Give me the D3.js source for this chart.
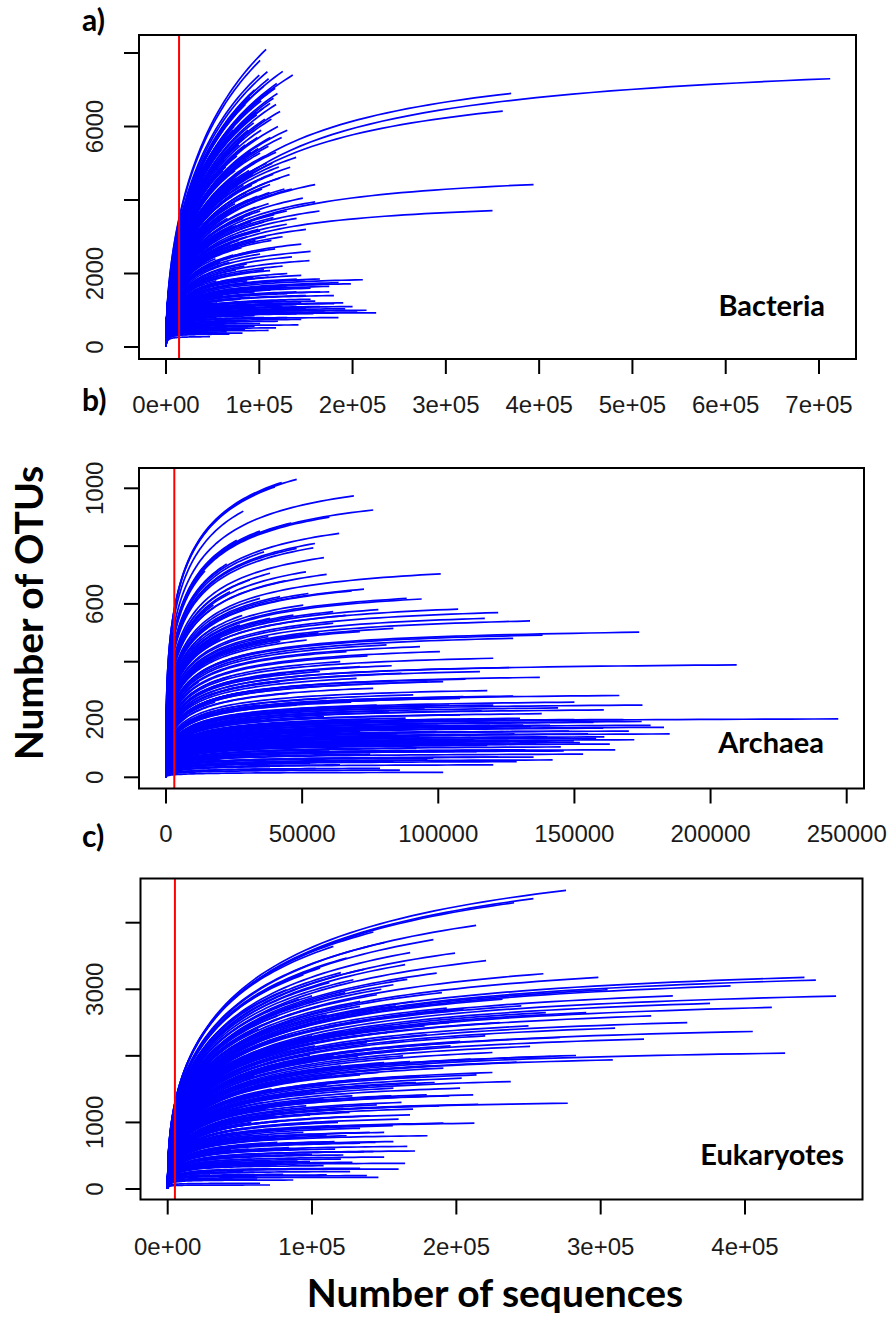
<!DOCTYPE html>
<html>
<head>
<meta charset="utf-8">
<script src="https://cdn.jsdelivr.net/npm/d3@7"></script>
<style>
  body { margin: 0; background: #fff; }
  svg { display: block; }
</style>
</head>
<body>
<script>
// Rarefaction curves: each entry is [sequences at end of curve, OTUs at end of curve]
const bacteria = [
  [712000, 7300], [370000, 6900], [361000, 6420], [394000, 4420], [350000, 3710],
  [107300, 8100], [100900, 7800], [108700, 7490], [125200, 7500], [135900, 7400],
  [118800, 7170], [117000, 7040], [119500, 6900], [115200, 6770], [111600, 6630],
  [122300, 6410], [104400, 6500], [97300, 6320], [83000, 6140], [84100, 5690],
  [109800, 5460], [100900, 5280], [139500, 5160], [133100, 4890], [132400, 4690],
  [122300, 4600], [111600, 4420], [159900, 4420], [146700, 4050], [159900, 3950],
  [164500, 3700], [129500, 3700], [115200, 3520], [129500, 3340], [100900, 3160],
  [117000, 2670], [100900, 2530], [153800, 2350], [111600, 2080], [86600, 2260],
  [75800, 2710], [93700, 1900], [140200, 1850], [149200, 1830], [211000, 1830],
  [198200, 1720], [129500, 1630], [118800, 1450], [128800, 1250], [180300, 1180],
  [192100, 1040], [225300, 930], [184900, 800], [158100, 910], [142000, 600],
  [84800, 480], [100900, 640], [65100, 410], [47200, 280],
  [30000, 2600], [32000, 3400], [35000, 4200], [36000, 1500], [38000, 2900],
  [40000, 3800], [40000, 900], [42000, 4600], [44000, 2200], [45000, 5000],
  [46000, 3300], [48000, 1200], [50000, 4100], [50000, 2700], [52000, 5300],
  [53000, 3600], [54000, 1800], [55000, 4700], [56000, 3000], [57000, 600],
  [58000, 5600], [58000, 2300], [60000, 4300], [60000, 3900], [61000, 1400],
  [62000, 5100], [63000, 3200], [64000, 4900], [65000, 2000], [66000, 5800],
  [66000, 3500], [67000, 1000], [68000, 4500], [69000, 2800], [70000, 5400],
  [70000, 3700], [71000, 4100], [72000, 2500], [73000, 6000], [73000, 1700],
  [74000, 4800], [75000, 3300], [76000, 5200], [77000, 4400], [78000, 2900],
  [79000, 6200], [80000, 3900], [80000, 1300], [81000, 5000], [82000, 4600],
  [83000, 3500], [84000, 2200], [85000, 5500], [86000, 4200], [87000, 3000],
  [88000, 5900], [89000, 4800], [90000, 3600], [90000, 1900], [91000, 5300],
  [92000, 4400], [93000, 2600], [94000, 6100], [95000, 5000], [96000, 3800],
  [97000, 4500], [98000, 5700], [99000, 3200], [100000, 4900], [102000, 5900],
  [103000, 4300], [105000, 3400], [106000, 6200], [108000, 5000], [110000, 3900],
  [112000, 5700], [113000, 2900], [115000, 4700], [118000, 5300], [120000, 6000],
  [25000, 1800], [28000, 700], [34000, 2000], [43000, 1600], [47000, 500],
  [52000, 800], [62000, 1100], [74000, 900], [86000, 1150], [95000, 1500],
  [104000, 1250], [115000, 1000], [125000, 1100], [135000, 1000], [145000, 1200],
  [150000, 1400], [165000, 1100], [170000, 950], [175000, 1500], [160000, 1700],
  [140000, 1500], [120000, 1800], [105000, 2100], [130000, 2000], [145000, 2800],
  [125000, 3000], [135000, 4300], [140000, 3500], [150000, 3200], [155000, 2600],
  [100000, 7400], [110000, 7300], [112000, 7000], [105000, 7100], [95000, 7000],
  [90000, 6800], [85000, 6600],
  [170000, 1000], [160000, 1250], [150000, 1050], [140000, 900], [175000, 1650],
  [185000, 1750], [165000, 1850], [155000, 1600], [190000, 1200], [200000, 1100],
  [205000, 950], [215000, 1000], [145000, 750], [130000, 800], [120000, 700],
  [110000, 950], [95000, 850], [90000, 1350], [75000, 1200], [70000, 1550],
  [110000, 1900], [125000, 2200], [135000, 2450], [145000, 1950],
  [22000, 1200], [24000, 2900], [26000, 3600], [27000, 2100], [29000, 1000],
  [31000, 4300], [33000, 1700], [35000, 3000], [37000, 2400], [39000, 4800],
  [41000, 3200], [43000, 2700], [44000, 4100], [46000, 1900], [47000, 3900],
  [49000, 5200], [51000, 3400], [53000, 2400], [54000, 4500], [56000, 5500],
  [57000, 1500], [59000, 3600], [61000, 4800], [62000, 2700], [64000, 3800],
  [65000, 5600], [67000, 4200], [68000, 2300], [70000, 4900], [71000, 3300],
  [72000, 5900], [74000, 3900], [75000, 2100], [76000, 4600], [78000, 5500],
  [79000, 3500], [81000, 2700], [82000, 6300], [83000, 4400], [85000, 3100],
  [86000, 5100], [87000, 1800], [88000, 4000], [89000, 6500], [91000, 3400],
  [92000, 5600], [93000, 4700], [96000, 2900], [97000, 6400], [98000, 4100],
  [99000, 5400], [101000, 3700], [102000, 6700], [104000, 4600], [106000, 5200],
  [107000, 3000], [109000, 6900], [111000, 4200], [113000, 6200], [114000, 5000],
  [116000, 3600], [118000, 6600], [121000, 4900], [124000, 5700], [127000, 4300],
  [130000, 5900], [60000, 700], [75000, 650], [90000, 700], [105000, 800],
  [120000, 1250], [130000, 1450], [140000, 1150], [155000, 1300], [165000, 1500],
  [180000, 1400], [50000, 1000], [66000, 1300], [80000, 1600], [96000, 1100],
  [112000, 1550], [68000, 350], [88000, 550], [110000, 450], [38000, 350],
  [55000, 1200],
  [45000, 420], [58000, 520], [72000, 460], [82000, 380], [95000, 560],
  [118000, 520], [62000, 850], [78000, 780], [92000, 1000], [34000, 600],
  [42000, 750], [52000, 630], [26000, 450], [36000, 1100]
];

const archaea = [
  [48000, 1031], [42500, 1020], [40000, 1005], [69000, 974], [76100, 925],
  [28400, 921], [63600, 844], [34500, 852], [54700, 809], [54100, 794],
  [48000, 792], [22300, 738], [14300, 714], [38200, 706], [51400, 711],
  [59000, 702], [100900, 704], [72700, 651], [68200, 645], [93900, 617],
  [61400, 573], [107300, 582], [122000, 570], [117100, 550], [133700, 541],
  [138300, 492], [173800, 502], [137300, 346], [209600, 389], [127500, 281],
  [166500, 283], [160800, 233], [246900, 202], [174700, 193], [182900, 173],
  [149800, 126], [163000, 115], [146100, 91], [153200, 80], [160600, 170],
  [131200, 181], [123900, 158], [88400, 619], [37600, 487], [82900, 386],
  [86500, 360], [70000, 342], [76100, 308], [109200, 279], [108000, 216],
  [107300, 175], [94500, 187], [105500, 118], [85900, 25], [101800, 17],
  [78600, 31], [63900, 43],
  [30800, 683], [23500, 642], [17400, 596], [34500, 619], [41900, 625],
  [52300, 636], [50400, 596], [38200, 550], [46800, 561], [27200, 527],
  [61400, 533], [71200, 504], [83500, 515], [93300, 452], [100600, 435],
  [81000, 458], [66300, 435], [51700, 475], [34500, 435], [22300, 435],
  [13700, 389], [71200, 383], [56500, 366], [41900, 331], [28400, 342],
  [101800, 331], [115300, 366], [120200, 412], [127500, 481], [108000, 273],
  [90800, 285], [77400, 250], [59000, 273], [46800, 227], [34500, 250],
  [22300, 227], [120200, 250], [130000, 204], [117700, 169], [99400, 158],
  [83500, 135], [71200, 158], [59000, 135], [46800, 123], [34500, 100],
  [22300, 77], [126300, 123], [114100, 89], [98200, 66], [83500, 54],
  [66300, 66], [52900, 48], [38200, 37], [128800, 54], [120200, 43],
  [140000, 140], [150000, 200], [155000, 150], [145000, 105], [135000, 70],
  [142000, 60], [158000, 135], [170000, 160], [165000, 95], [138000, 220],
  [150000, 260], [175000, 250],
  [95000, 240], [88000, 205], [112000, 145], [92000, 100], [75000, 80],
  [62000, 190], [55000, 160], [40000, 170], [30000, 140], [26000, 290],
  [18000, 260], [12000, 200], [9000, 300], [16000, 160], [45000, 290],
  [65000, 225], [80000, 170], [102000, 200], [118000, 110], [132000, 95],
  [20000, 60], [25000, 120], [35000, 200], [42000, 80], [48000, 250],
  [50000, 110], [55000, 30], [58000, 210], [60000, 95], [65000, 150],
  [68000, 260], [72000, 120], [75000, 200], [78000, 90], [82000, 230],
  [85000, 150], [88000, 110], [90000, 270], [93000, 140], [96000, 60],
  [100000, 180], [104000, 250], [106000, 90], [110000, 200], [113000, 130],
  [116000, 230], [119000, 180], [122000, 70], [125000, 200], [128000, 150],
  [134000, 175], [136000, 115], [141000, 180], [144000, 240], [148000, 160],
  [152000, 120], [157000, 190], [161000, 140], [168000, 200], [172000, 130],
  [178000, 180], [185000, 150], [15000, 100], [10000, 150], [24000, 350],
  [32000, 300], [44000, 360], [54000, 320], [64000, 400], [74000, 420],
  [96000, 330], [110000, 340], [118000, 300], [126000, 380], [20000, 480],
  [28000, 560], [42000, 470], [56000, 500], [66000, 560], [78000, 580],
  [44000, 680], [58000, 760], [36000, 780], [26000, 820], [46000, 880],
  [60000, 900], [18000, 520], [8000, 250], [6000, 120], [12000, 330]
];

const eukaryotes = [
  [276000, 4486], [253400, 4361], [240000, 4300], [142500, 3860], [213700, 3960],
  [199100, 3544], [220600, 3429], [184100, 3745], [164500, 3369], [186400, 3243],
  [128700, 3143], [133300, 2817], [260300, 3233], [298400, 3178], [304800, 2993],
  [441200, 3178], [449100, 3138], [463100, 2898], [375800, 2788], [418600, 2727],
  [310000, 2416], [271900, 2276], [405400, 2366], [427800, 2040], [251100, 2141],
  [282900, 2005], [265600, 1990], [308400, 1940], [241800, 1905], [237700, 1614],
  [277200, 1288], [171400, 571], [164500, 386], [146000, 175], [142500, 561],
  [133300, 687], [115600, 712], [126400, 261], [70900, 60], [212500, 988],
  [215100, 1273], [211700, 1414], [203700, 1664],
  [114800, 3645], [124000, 3469], [105600, 3319], [94000, 3218], [82400, 2993],
  [156400, 3068], [144900, 2918], [133300, 2742], [170300, 2817], [193400, 2717],
  [110200, 2617], [87000, 2516], [70900, 2366], [59400, 2216], [121700, 2366],
  [156400, 2441], [179500, 2316], [202600, 2216], [144900, 2116], [98600, 2015],
  [75500, 1915], [52400, 1815], [167900, 1915], [191000, 1815], [214000, 1714],
  [133300, 1714], [110200, 1564], [87000, 1514], [64000, 1414], [40900, 1313],
  [156400, 1514], [179500, 1414], [202600, 1514], [144900, 1263], [121700, 1213],
  [98600, 1113], [75500, 1013], [52400, 912], [167900, 1113], [191000, 988],
  [133300, 912], [110200, 812], [87000, 762], [64000, 662], [40900, 561],
  [156400, 712], [121700, 511], [98600, 411], [75500, 361], [52400, 261],
  [29300, 211], [133300, 311], [110200, 211], [87000, 135], [64000, 85],
  [35000, 900], [45000, 1100], [55000, 1600], [62000, 1900], [68000, 1200],
  [78000, 1700], [85000, 2100], [92000, 1300], [100000, 2300], [105000, 1800],
  [115000, 2000], [118000, 1000], [125000, 2600], [128000, 1400], [138000, 2200],
  [140000, 1100], [150000, 1900], [160000, 2600], [162000, 1300], [175000, 2100],
  [185000, 1600], [195000, 2500], [25000, 500], [48000, 700], [58000, 450],
  [72000, 900], [95000, 600], [104000, 1000], [118000, 1600], [150000, 850],
  [175000, 1700], [188000, 1250], [230000, 2500], [225000, 2050], [245000, 2750],
  [168000, 3550], [150000, 3700], [120000, 3250], [100000, 2900], [90000, 2750],
  [20000, 300], [30000, 700], [38000, 1100], [42000, 400], [46000, 1500],
  [50000, 1200], [54000, 2000], [57000, 800], [60000, 1700], [63000, 2400],
  [66000, 1000], [69000, 2100], [72000, 1500], [76000, 2600], [79000, 1250],
  [82000, 2300], [84000, 900], [88000, 1900], [91000, 2850], [94000, 1450],
  [97000, 2450], [99000, 1050], [102000, 2150], [106000, 2750], [108000, 1350],
  [112000, 3100], [114000, 1700], [117000, 2450], [120000, 1850], [123000, 2950],
  [126000, 1150], [130000, 2300], [132000, 2000], [136000, 3300], [139000, 1550],
  [142000, 2650], [146000, 1750], [148000, 3000], [152000, 2350], [155000, 1400],
  [158000, 2750], [163000, 2000], [166000, 3150], [172000, 1600], [178000, 2450],
  [182000, 1850], [190000, 2950], [196000, 2150], [205000, 2700], [210000, 1950],
  [220000, 2300], [232000, 2850], [160000, 1050], [180000, 800], [120000, 450],
  [100000, 300], [80000, 500], [60000, 250], [45000, 150], [140000, 850],
  [170000, 1200], [195000, 1400], [225000, 1750], [250000, 2450], [262000, 2650],
  [290000, 2650], [335000, 2600], [350000, 2900], [390000, 3050], [330000, 2250],
  [360000, 2500],
  [40000, 250], [50000, 380], [56000, 600], [62000, 150], [68000, 500],
  [72000, 300], [76000, 700], [80000, 220], [84000, 620], [90000, 420],
  [94000, 850], [100000, 520], [105000, 700], [108000, 350], [112000, 950],
  [116000, 600], [124000, 800], [128000, 400], [136000, 560], [138000, 200],
  [144000, 700], [150000, 480], [156000, 950], [160000, 300], [166000, 640],
  [70000, 800], [58000, 1000], [48000, 850], [36000, 400], [30000, 1000],
  [44000, 600], [88000, 1150], [96000, 1250], [74000, 1100], [66000, 1300],
  [54000, 1400], [84000, 1400], [102000, 1450]
];

// Axis ticks and labels (empty label = tick without text, as R drops crowded labels)
const bacXTicks = [0, 1e5, 2e5, 3e5, 4e5, 5e5, 6e5, 7e5];
const bacXLabels = ["0e+00", "1e+05", "2e+05", "3e+05", "4e+05", "5e+05", "6e+05", "7e+05"];
const bacYTicks = [0, 2000, 4000, 6000, 8000];
const bacYLabels = ["0", "2000", "", "6000", ""];

const arcXTicks = [0, 50000, 100000, 150000, 200000, 250000];
const arcXLabels = ["0", "50000", "100000", "150000", "200000", "250000"];
const arcYTicks = [0, 200, 400, 600, 800, 1000];
const arcYLabels = ["0", "200", "", "600", "", "1000"];

const eukXTicks = [0, 1e5, 2e5, 3e5, 4e5];
const eukXLabels = ["0e+00", "1e+05", "2e+05", "3e+05", "4e+05"];
const eukYTicks = [0, 1000, 2000, 3000, 4000];
const eukYLabels = ["0", "1000", "", "3000", ""];

// rarefaction depth (red line)
const rarefyDepth = { bacteria: 14000, archaea: 3050, eukaryotes: 5000 };

const W = 893, H = 1321;
const svg = d3.select("body").append("svg").attr("width", W).attr("height", H);

const tickFont = "'Liberation Sans', Arial, sans-serif";
const boldFont = "Lato, 'Open Sans', sans-serif";

const panels = [
  {
    tag: "a)", tagY: 31, name: "Bacteria", nameX: 825, nameY: 316,
    data: bacteria, depth: rarefyDepth.bacteria,
    box: { l: 139, r: 856, t: 35, b: 359 },
    xDom: [0, 7e5], xRange: [166, 819], yDom: [0, 8000], yRange: [347, 53],
    xTicks: bacXTicks, xLabels: bacXLabels, yTicks: bacYTicks, yLabels: bacYLabels,
    labelY: 413, shape: { p: 0.5, c: 2.613, q: 1.25 }
  },
  {
    tag: "b)", tagY: 411, name: "Archaea", nameX: 824, nameY: 753,
    data: archaea, depth: rarefyDepth.archaea,
    box: { l: 139, r: 864, t: 468, b: 788.5 },
    xDom: [0, 250000], xRange: [166, 846.7], yDom: [0, 1000], yRange: [777.3, 488.3],
    xTicks: arcXTicks, xLabels: arcXLabels, yTicks: arcYTicks, yLabels: arcYLabels,
    labelY: 842, shape: { p: 0.3, c: 31260, q: 0 }
  },
  {
    tag: "c)", tagY: 847, name: "Eukaryotes", nameX: 844, nameY: 1165,
    data: eukaryotes, depth: rarefyDepth.eukaryotes,
    box: { l: 140.5, r: 862.5, t: 878.5, b: 1199.5 },
    xDom: [0, 4e5], xRange: [167.7, 745], yDom: [0, 4000], yRange: [1189, 922.7],
    xTicks: eukXTicks, xLabels: eukXLabels, yTicks: eukYTicks, yLabels: eukYLabels,
    labelY: 1255, shape: { p: 0.4, c: 40.3, q: 1 }
  }
];

// sample a saturating rarefaction-like curve that ends at (X, Y)
function curvePoints(X, Y, shape) {
  const K = shape.c * Math.pow(Y, shape.q);
  const g = (v) => Math.pow(v / (v + K), shape.p);
  const gEnd = g(X);
  const pts = [];
  const n = 60;
  for (let i = 0; i <= n; i++) {
    const v = X * Math.pow(i / n, 2.2);
    pts.push([v, (Y * g(v)) / gEnd]);
  }
  return pts;
}

panels.forEach((p) => {
  const x = d3.scaleLinear().domain(p.xDom).range(p.xRange);
  const y = d3.scaleLinear().domain(p.yDom).range(p.yRange);
  const g = svg.append("g");

  const line = d3
    .line()
    .x((d) => x(d[0]))
    .y((d) => y(d[1]));

  g.selectAll("path.curve")
    .data(p.data)
    .enter()
    .append("path")
    .attr("class", "curve")
    .attr("d", (d) => line(curvePoints(d[0], d[1], p.shape)))
    .attr("fill", "none")
    .attr("stroke", "#0000ff")
    .attr("stroke-width", 1.7);

  // red rarefaction line
  g.append("line")
    .attr("x1", x(p.depth))
    .attr("x2", x(p.depth))
    .attr("y1", p.box.t)
    .attr("y2", p.box.b)
    .attr("stroke", "#ff0000")
    .attr("stroke-width", 2);

  // box
  g.append("rect")
    .attr("x", p.box.l)
    .attr("y", p.box.t)
    .attr("width", p.box.r - p.box.l)
    .attr("height", p.box.b - p.box.t)
    .attr("fill", "none")
    .attr("stroke", "#000")
    .attr("stroke-width", 2);

  // x axis ticks
  g.selectAll("line.xt")
    .data(p.xTicks)
    .enter()
    .append("line")
    .attr("x1", (d) => x(d))
    .attr("x2", (d) => x(d))
    .attr("y1", p.box.b)
    .attr("y2", p.box.b + 15)
    .attr("stroke", "#000")
    .attr("stroke-width", 2);

  g.selectAll("text.xl")
    .data(p.xTicks)
    .enter()
    .append("text")
    .attr("x", (d) => x(d))
    .attr("y", p.labelY)
    .attr("text-anchor", "middle")
    .style("font-family", tickFont)
    .style("font-size", "24px")
    .attr("fill", "#1a1a1a")
    .text((d, i) => p.xLabels[i]);

  // y axis ticks
  g.selectAll("line.yt")
    .data(p.yTicks)
    .enter()
    .append("line")
    .attr("x1", p.box.l - 15)
    .attr("x2", p.box.l)
    .attr("y1", (d) => y(d))
    .attr("y2", (d) => y(d))
    .attr("stroke", "#000")
    .attr("stroke-width", 2);

  g.selectAll("text.yl")
    .data(p.yTicks)
    .enter()
    .append("text")
    .attr("transform", (d) => "translate(103," + y(d) + ") rotate(-90)")
    .attr("text-anchor", "middle")
    .style("font-family", tickFont)
    .style("font-size", "24px")
    .attr("fill", "#1a1a1a")
    .text((d, i) => p.yLabels[i]);

  // panel tag and organism name
  g.append("text")
    .attr("x", 82)
    .attr("y", p.tagY)
    .style("font-family", boldFont)
    .style("font-weight", "bold")
    .style("font-size", "30px")
    .text(p.tag);

  g.append("text")
    .attr("x", p.nameX)
    .attr("y", p.nameY)
    .attr("text-anchor", "end")
    .style("font-family", boldFont)
    .style("font-weight", "bold")
    .style("font-size", "29px")
    .text(p.name);
});

// shared axis titles
svg.append("text")
  .attr("transform", "translate(43,613) rotate(-90)")
  .attr("text-anchor", "middle")
  .style("font-family", boldFont)
  .style("font-weight", "bold")
  .style("font-size", "39px")
  .text("Number of OTUs");

svg.append("text")
  .attr("x", 495)
  .attr("y", 1307)
  .attr("text-anchor", "middle")
  .style("font-family", boldFont)
  .style("font-weight", "bold")
  .style("font-size", "39px")
  .text("Number of sequences");
</script>
</body>
</html>
